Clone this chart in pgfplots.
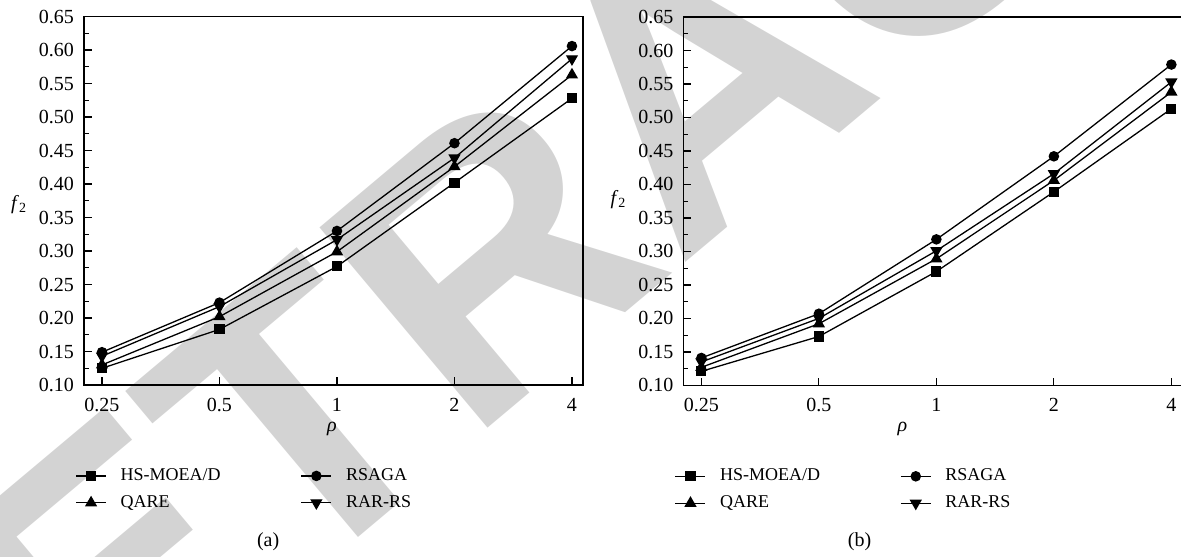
\documentclass[border=0pt]{standalone}
\usepackage{fontspec}
\setmainfont{Liberation Serif}
\setsansfont{Liberation Sans}
\usepackage{pgfplots}
\pgfplotsset{compat=1.18}
\usepackage{pgfplotstable}

\pgfplotstableread{
x hs qare rsaga rar
0 0.125 0.130 0.149 0.143
1 0.183 0.202 0.223 0.217
2 0.277 0.299 0.330 0.317
3 0.402 0.426 0.461 0.439
4 0.528 0.563 0.606 0.587
}\dataA

\pgfplotstableread{
x hs qare rsaga rar
0 0.121 0.127 0.141 0.135
1 0.173 0.192 0.207 0.200
2 0.270 0.289 0.318 0.301
3 0.389 0.406 0.442 0.416
4 0.513 0.538 0.579 0.553
}\dataB

\definecolor{wm}{HTML}{D3D3D3}

\pgfplotsset{
 mystyle/.style={
  width=249.5pt, height=184.2pt, scale only axis,
  clip mode=individual,
  xmin=-0.153, xmax=4.094, ymin=0.1, ymax=0.65,
  xtick={0,1,2,3,4}, xticklabels={0.25,0.5,1,2,4},
  ytick={0.10,0.15,0.20,0.25,0.30,0.35,0.40,0.45,0.50,0.55,0.60,0.65},
  minor y tick num=1,
  tick align=inside, xtick pos=bottom, ytick pos=left,
  major tick length=3.8pt, minor tick length=2.5pt,
  tick style={black, line width=0.6pt},
  axis line style={line width=0.8pt},
  /pgf/number format/assume math mode=true,
  yticklabel={\pgfmathprintnumber[fixed,fixed zerofill,precision=2]{\tick}},
  tick label style={font=\fontsize{10}{12}\selectfont},
  yticklabel style={xshift=-1.5pt},
  xticklabel style={yshift=-3pt},
  label style={font=\fontsize{10}{12}\selectfont},
  legend columns=2, legend cell align=left,
  legend style={draw=none, fill=none, font=\fontsize{9}{11}\selectfont,
    inner sep=0pt, nodes={inner sep=0pt}, row sep=6pt,
    /tikz/every odd column/.append style={column sep=7pt},
    /tikz/every even column/.append style={column sep=40pt}},
  legend image code/.code={\draw[mark repeat=2,mark phase=2] plot coordinates {(0pt,0pt) (7.5pt,0pt) (15pt,0pt)};},
  every axis plot/.append style={black, line width=0.65pt, mark options={solid, fill=black}},
 }
}

\begin{document}
\begin{tikzpicture}
\useasboundingbox (0,0) rectangle (590.5pt,278pt);
\node[rotate=40, text=wm, font=\sffamily\bfseries\fontsize{190}{190}\selectfont, inner sep=0pt] at (350pt,238pt) {RETRACTED};

\begin{axis}[mystyle, at={(42pt,85.5pt)}, anchor=south west,
  xlabel={\textit{ρ}},
  xlabel style={at={(axis description cs:0.497,-0.125)}, anchor=base},
  ylabel={\textit{f}\textsubscript{2}},
  every axis y label/.style={at={(axis description cs:-0.13,0.489)}, anchor=center},
  legend style={at={(axis description cs:-0.018,-0.2255)}, anchor=north west}]
\addplot[mark=square*, mark size=2.2pt] table[x=x,y=hs] {\dataA};
\addlegendentry{HS-MOEA/D}
\addplot[mark=*, mark size=2.3pt] table[x=x,y=rsaga] {\dataA};
\addlegendentry{RSAGA}
\addplot[mark=triangle*, mark size=2.9pt] table[x=x,y=qare] {\dataA};
\addlegendentry{QARE}
\addplot[mark=triangle*, mark size=2.9pt, mark options={rotate=180}] table[x=x,y=rar] {\dataA};
\addlegendentry{RAR-RS}
\node[font=\fontsize{10}{12}\selectfont] at (axis description cs:0.369,-0.424) {(a)};
\end{axis}

\begin{axis}[mystyle, at={(341.7pt,85.3pt)}, anchor=south west,
  xlabel={\textit{ρ}},
  xlabel style={at={(axis description cs:0.439,-0.125)}, anchor=base},
  ylabel={\textit{f}\textsubscript{2}},
  every axis y label/.style={at={(axis description cs:-0.13,0.505)}, anchor=center},
  legend style={at={(axis description cs:-0.018,-0.2255)}, anchor=north west}]
\addplot[mark=square*, mark size=2.2pt] table[x=x,y=hs] {\dataB};
\addlegendentry{HS-MOEA/D}
\addplot[mark=*, mark size=2.3pt] table[x=x,y=rsaga] {\dataB};
\addlegendentry{RSAGA}
\addplot[mark=triangle*, mark size=2.9pt] table[x=x,y=qare] {\dataB};
\addlegendentry{QARE}
\addplot[mark=triangle*, mark size=2.9pt, mark options={rotate=180}] table[x=x,y=rar] {\dataB};
\addlegendentry{RAR-RS}
\node[font=\fontsize{10}{12}\selectfont] at (axis description cs:0.353,-0.424) {(b)};
\end{axis}
\end{tikzpicture}
\end{document}
